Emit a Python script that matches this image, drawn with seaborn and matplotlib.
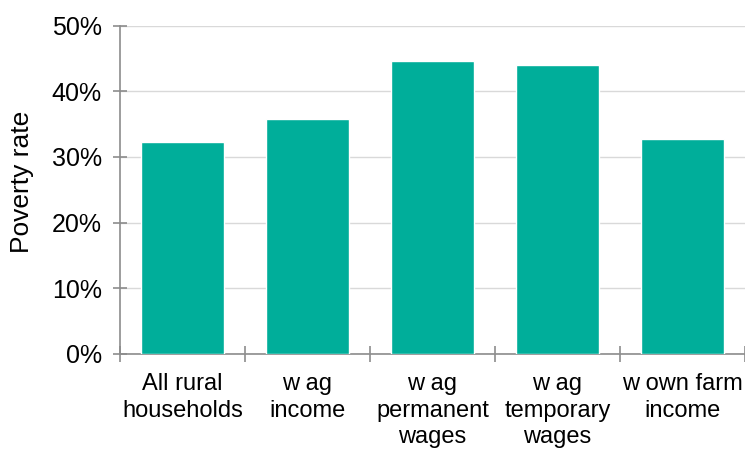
import matplotlib
matplotlib.use("Agg")
import matplotlib.pyplot as plt
import seaborn as sns
import pandas as pd
from matplotlib.ticker import PercentFormatter, MultipleLocator

# data
groups = ["All rural\nhouseholds", "w ag\nincome", "w ag\npermanent\nwages",
          "w ag\ntemporary\nwages", "w own farm\nincome"]
poverty_rate = [32.2, 35.7, 44.6, 44.0, 32.7]

df = pd.DataFrame({"group": groups, "rate": poverty_rate})

sns.set_style("white")
plt.rcParams["font.family"] = ["Liberation Sans", "DejaVu Sans"]
plt.rcParams["text.color"] = "black"

fig = plt.figure(figsize=(7.45, 4.49), dpi=100)
ax = fig.add_axes([0.161, 0.2116, 0.839, 0.7316])

sns.barplot(data=df, x="group", y="rate", color="#00AE9A", width=0.67,
            saturation=1, ax=ax, zorder=3)

ax.set_ylim(0, 50)
ax.set_xlim(-0.5, 4.5)
ax.yaxis.set_major_locator(MultipleLocator(10))
ax.yaxis.set_major_formatter(PercentFormatter(decimals=0))
ax.grid(axis="y", color="#d9d9d9", linewidth=1, zorder=0)

ax.set_xlabel("")
ax.set_ylabel("Poverty rate", fontsize=19, color="black")
ax.yaxis.set_label_coords(-0.137, 0.524)

for s in ["top", "right"]:
    ax.spines[s].set_visible(False)
for s in ["left", "bottom"]:
    ax.spines[s].set_color("#8c8c8c")
    ax.spines[s].set_linewidth(1.2)

ax.tick_params(axis="y", direction="inout", length=10, width=1.2,
               color="#8c8c8c", labelsize=18, pad=8, left=True,
               labelcolor="black")
ax.tick_params(axis="x", which="major", length=0, labelsize=17, pad=14,
               labelcolor="black")
ax.set_xticks([i + 0.5 for i in range(-1, 5)], minor=True)
ax.tick_params(axis="x", which="minor", direction="inout", length=12,
               width=1.2, color="#8c8c8c", bottom=True)
for lbl in ax.get_xticklabels():
    lbl.set_linespacing(1.25)

fig.savefig("out.png", dpi=100)
